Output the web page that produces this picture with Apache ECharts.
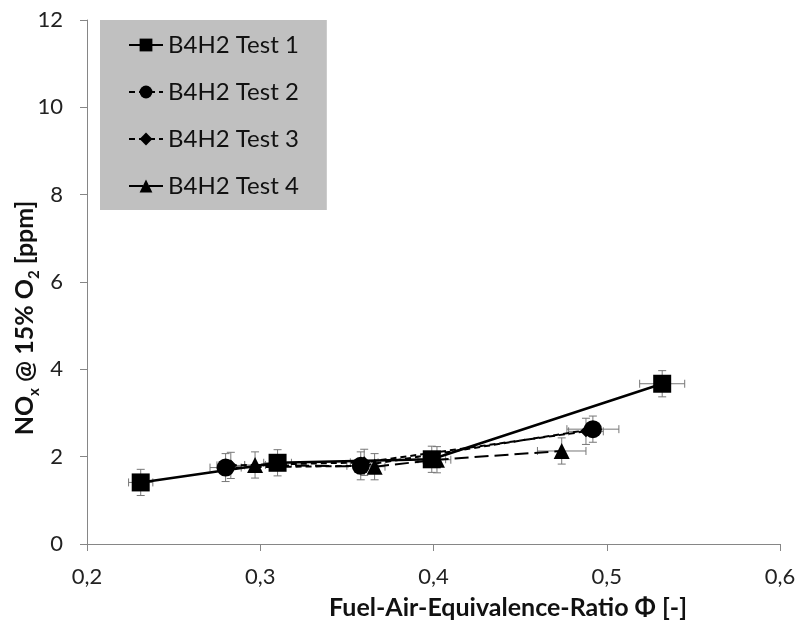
<!DOCTYPE html>
<html><head><meta charset="utf-8">
<script src="https://cdn.jsdelivr.net/npm/echarts@6/dist/echarts.min.js"></script>
<style>html,body{margin:0;padding:0;background:#fff}#c{width:801px;height:622px}</style>
</head><body><div id="c"></div>
<script>
const seriesNames = ['B4H2 Test 1','B4H2 Test 2','B4H2 Test 3','B4H2 Test 4'];
const test1X = [0.231, 0.310, 0.399, 0.532];
const test1Y = [1.41, 1.86, 1.94, 3.67];
const test1XErr = [0.007, 0.008, 0.008, 0.013];
const test1YErr = [0.30, 0.30, 0.30, 0.30];
const test2X = [0.280, 0.358, 0.492];
const test2Y = [1.75, 1.79, 2.63];
const test2XErr = [0.009, 0.008, 0.015];
const test2YErr = [0.32, 0.32, 0.30];
const test3X = [0.283, 0.360, 0.488];
const test3Y = [1.80, 1.87, 2.58];
const test3XErr = [0.008, 0.008, 0.010];
const test3YErr = [0.30, 0.30, 0.30];
const test4X = [0.297, 0.366, 0.402, 0.474];
const test4Y = [1.81, 1.77, 1.93, 2.13];
const test4XErr = [0.006, 0.006, 0.008, 0.014];
const test4YErr = [0.30, 0.30, 0.30, 0.30];
const xTicks = [0.2, 0.3, 0.4, 0.5, 0.6];
const yTicks = [0, 2, 4, 6, 8, 10, 12];
const xTitle = 'Fuel-Air-Equivalence-Ratio Φ [-]';
const yTitle = '{b|NO}{s|x}{b| @ 15% O}{s|2}{b| [ppm]}';

const font = 'Lato, "Open Sans", sans-serif';
function pts(xs, ys){ return xs.map((x,i)=>[x, ys[i]]); }
function errData(xs, ys, xe, ye){ return xs.map((x,i)=>[x, ys[i], xe[i], ye[i]]); }
function errSeries(d){
  return {
    type:'custom', silent:true, z:1,
    data:d,
    renderItem:function(params, api){
      const x=api.value(0), y=api.value(1), xe=api.value(2), ye=api.value(3);
      const c=api.coord([x,y]);
      const l=api.coord([x-xe,y]), r=api.coord([x+xe,y]);
      const t=api.coord([x,y+ye]), b=api.coord([x,y-ye]);
      const cap=4;
      const st={stroke:'#777', lineWidth:1};
      return {type:'group', children:[
        {type:'line', shape:{x1:l[0],y1:c[1],x2:r[0],y2:c[1]}, style:st},
        {type:'line', shape:{x1:l[0],y1:c[1]-cap,x2:l[0],y2:c[1]+cap}, style:st},
        {type:'line', shape:{x1:r[0],y1:c[1]-cap,x2:r[0],y2:c[1]+cap}, style:st},
        {type:'line', shape:{x1:c[0],y1:t[1],x2:c[0],y2:b[1]}, style:st},
        {type:'line', shape:{x1:c[0]-cap,y1:t[1],x2:c[0]+cap,y2:t[1]}, style:st},
        {type:'line', shape:{x1:c[0]-cap,y1:b[1],x2:c[0]+cap,y2:b[1]}, style:st}
      ]};
    }
  };
}
function lineSeries(name, d, symbol, size, lt, w){
  return {name:name, type:'line', data:d, symbol:symbol, symbolSize:size, z:3,
    lineStyle:{color:'#000', width:w, type:lt}, itemStyle:{color:'#000'}};
}
const chart = echarts.init(document.getElementById('c'));
chart.setOption({
  animation:false,
  backgroundColor:'#fff',
  grid:{left:87, right:21, top:20, bottom:78, outerBoundsMode:'none', containLabel:false},
  legend:{
    data:seriesNames, orient:'vertical', left:100, top:20,
    backgroundColor:'#c0c0c0', padding:[13, 28, 12, 28], itemGap:23,
    itemWidth:34, itemHeight:16,
    textStyle:{fontFamily:font, fontSize:24, color:'#111'}
  },
  graphic:[
    {type:'text', x:508, y:608,
     style:{text:xTitle, font:'bold 25px '+font, fill:'#111', align:'center', verticalAlign:'middle'}},
    {type:'text', x:27, y:318, rotation:Math.PI/2,
     style:{text:yTitle, align:'center', verticalAlign:'middle',
       rich:{
         b:{fontFamily:font, fontSize:25, fontWeight:'bold', fill:'#111', lineHeight:30, verticalAlign:'top'},
         s:{fontFamily:font, fontSize:15, fontWeight:'bold', fill:'#111', lineHeight:30, verticalAlign:'bottom', padding:[12,0,0,0]}
       }}}
  ],
  xAxis:{
    type:'value', min:0.2, max:0.6, interval:0.1,
    axisLine:{lineStyle:{color:'#868686'}},
    axisTick:{show:true, length:7, lineStyle:{color:'#868686'}},
    splitLine:{show:false},
    axisLabel:{fontFamily:font, fontSize:22, color:'#222', margin:22,
      formatter:v=>v.toFixed(1).replace('.',',')}
  },
  yAxis:{
    type:'value', min:0, max:12, interval:2,
    axisLine:{show:true, lineStyle:{color:'#868686'}},
    axisTick:{show:true, length:7, lineStyle:{color:'#868686'}},
    splitLine:{show:false},
    axisLabel:{fontFamily:font, fontSize:22, color:'#222', margin:24}
  },
  series:[
    errSeries(errData(test1X,test1Y,test1XErr,test1YErr)),
    errSeries(errData(test2X,test2Y,test2XErr,test2YErr)),
    errSeries(errData(test3X,test3Y,test3XErr,test3YErr)),
    errSeries(errData(test4X,test4Y,test4XErr,test4YErr)),
    lineSeries(seriesNames[3], pts(test4X,test4Y), 'triangle', 16, [14,6], 2),
    lineSeries(seriesNames[2], pts(test3X,test3Y), 'diamond', 12, [6,4], 2),
    lineSeries(seriesNames[1], pts(test2X,test2Y), 'circle', 18, [6,4], 2),
    lineSeries(seriesNames[0], pts(test1X,test1Y), 'rect', 18, 'solid', 2.5)
  ]
});
</script></body></html>
